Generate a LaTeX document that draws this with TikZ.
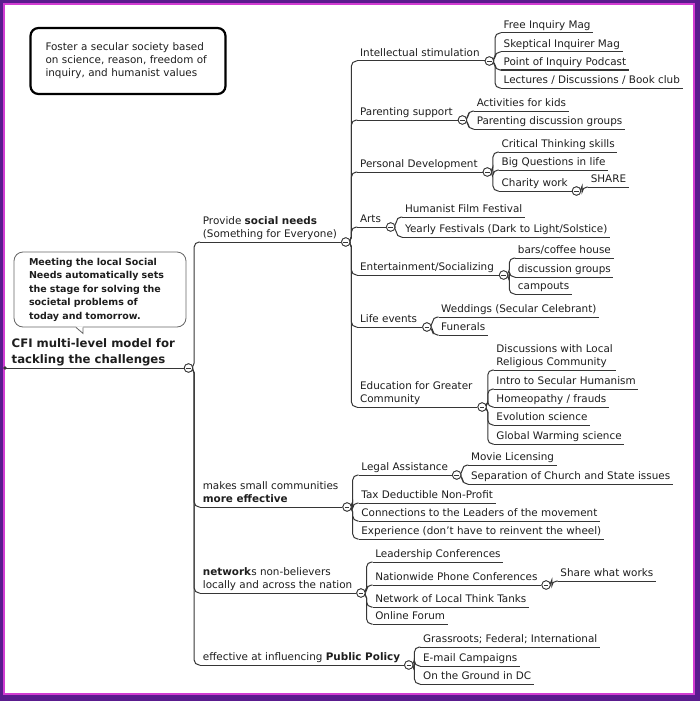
\documentclass[tikz,border=0pt]{standalone}
\usepackage{fontspec}
\setmainfont{DejaVu Sans}
\usetikzlibrary{positioning}

\definecolor{frameout}{HTML}{5A1B8E}
\definecolor{framein}{HTML}{D23CD2}
\definecolor{inkline}{HTML}{363636}
\definecolor{inktext}{HTML}{1E1E1E}

\newcommand{\mapfont}{\fontsize{10.4}{13}\selectfont}
\newcommand{\rootfont}{\fontsize{11.7}{16}\selectfont\bfseries}
\newcommand{\notefont}{\fontsize{9.5}{13.5}\selectfont\bfseries}

\tikzset{
  topic/.style={anchor=south west, inner xsep=2.5pt, inner ysep=1.5pt, text depth=2.5pt,
    font=\mapfont, text=inktext, align=left},
  rootnode/.style={anchor=south west, inner xsep=6.5pt, inner ysep=2pt,
    font=\rootfont, text=inktext, align=left},
  ul/.style={draw=inkline, line width=1pt},
  link/.style={draw=inkline, line width=1pt, rounded corners=5pt},
  minus/.style={circle, draw=inkline, line width=0.8pt, fill=white, minimum size=8.5pt, inner sep=0pt,
    path picture={\draw[inkline, line width=0.8pt]
      ([xshift=2pt]path picture bounding box.west) -- ([xshift=-2pt]path picture bounding box.east);}},
  goalbox/.style={draw=black, line width=2.2pt, rounded corners=8pt, font=\mapfont, text=inktext,
    align=left, text width=165pt, inner xsep=15pt, minimum height=66pt},
  notebox/.style={draw=black!60, line width=0.8pt, rounded corners=9pt, fill=white,
    font=\notefont, text=inktext, align=left, text width=142pt, inner xsep=15pt, minimum height=75pt},
}

\begin{document}
\begin{tikzpicture}[x=1pt,y=-1pt]
  % frame
  \fill[frameout] (0,0) rectangle (700,701);
  \fill[white] (4,4) rectangle (694,694);
  \draw[framein, line width=2pt] (4,4) rectangle (694,694);

  % boxes
  \node[goalbox] (goal) at (128,61) {Foster a secular society based\\on science, reason, freedom of\\inquiry, and humanist values};
  \node[notebox] (note) at (100,289.5) {Meeting the local Social\\Needs automatically sets\\the stage for solving the\\societal problems of\\today and tomorrow.};
  \coordinate (tipa) at ([xshift=-24pt]note.south);
  \coordinate (tipb) at ([xshift=-17pt]note.south);
  \coordinate (tip) at ([xshift=-17pt,yshift=-6pt]note.south);
  \fill[white] ([yshift=1pt]tipa) -- (tip) -- ([yshift=1pt]tipb) -- cycle;
  \draw[black!60, line width=0.8pt] (tipa) -- (tip) -- (tipb);

  % root
  \node[rootnode] (root) at (5,368) {CFI multi-level model for\\tackling the challenges};
  \node[minus] (root-m) at ([xshift=7pt]root.south east) {};
  \fill[inkline] (root.south west) circle (1.8pt);

  % level 1
  \node[topic, xshift=7pt] (prov) at (root-m.east |- 0,242) {Provide \textbf{social needs}\\(Something for Everyone)};
  \node[topic, xshift=7pt] (eff) at (root-m.east |- 0,507) {makes small communities\\\textbf{more effective}};
  \node[topic, xshift=7pt] (net) at (root-m.east |- 0,593) {\textbf{network}s non-believers\\locally and across the nation};
  \node[topic, xshift=7pt] (pol) at (root-m.east |- 0,665) {effective at influencing \textbf{Public Policy}};
  \node[minus] (prov-m) at ([xshift=6pt]prov.south east) {};
  \node[minus] (eff-m) at ([xshift=6pt]eff.south east) {};
  \node[minus] (net-m) at ([xshift=6pt]net.south east) {};
  \node[minus] (pol-m) at ([xshift=6pt]pol.south east) {};

  % social needs
  \node[topic, xshift=7pt] (ints) at (prov-m.east |- 0,61) {Intellectual stimulation};
  \node[topic, xshift=7pt] (par) at (prov-m.east |- 0,120) {Parenting support};
  \node[topic, xshift=7pt] (pdev) at (prov-m.east |- 0,172) {Personal Development};
  \node[topic, xshift=7pt] (arts) at (prov-m.east |- 0,227) {Arts};
  \node[topic, xshift=7pt] (ent) at (prov-m.east |- 0,275) {Entertainment/Socializing};
  \node[topic, xshift=7pt] (life) at (prov-m.east |- 0,327) {Life events};
  \node[topic, xshift=7pt] (edu) at (prov-m.east |- 0,407) {Education for Greater\\Community};
  \foreach \n in {ints,par,pdev,arts,ent,life,edu}
    \node[minus] (\n-m) at ([xshift=7pt]\n.south east) {};

  \node[topic, xshift=7pt] (fim) at (ints-m.east |- 0,33) {Free Inquiry Mag};
  \node[topic, xshift=7pt] (skm) at (ints-m.east |- 0,52) {Skeptical Inquirer Mag};
  \node[topic, xshift=7pt] (poi) at (ints-m.east |- 0,70) {Point of Inquiry Podcast};
  \node[topic, xshift=7pt] (lec) at (ints-m.east |- 0,88) {Lectures / Discussions / Book club};

  \node[topic, xshift=7pt] (kids) at (par-m.east |- 0,111) {Activities for kids};
  \node[topic, xshift=7pt] (pgrp) at (par-m.east |- 0,129) {Parenting discussion groups};

  \node[topic, xshift=7pt] (crit) at (pdev-m.east |- 0,152) {Critical Thinking skills};
  \node[topic, xshift=7pt] (bigq) at (pdev-m.east |- 0,170) {Big Questions in life};
  \node[topic, xshift=7pt] (char) at (pdev-m.east |- 0,191) {Charity work};
  \node[minus] (char-m) at ([xshift=6pt]char.south east) {};
  \node[topic, xshift=7pt] (share) at (char-m.east |- 0,187) {SHARE};

  \node[topic, xshift=7pt] (film) at (arts-m.east |- 0,217) {Humanist Film Festival};
  \node[topic, xshift=7pt] (fest) at (arts-m.east |- 0,237) {Yearly Festivals (Dark to Light/Solstice)};

  \node[topic, xshift=7pt] (bars) at (ent-m.east |- 0,258) {bars/coffee house};
  \node[topic, xshift=7pt] (disc) at (ent-m.east |- 0,277) {discussion groups};
  \node[topic, xshift=7pt] (camp) at (ent-m.east |- 0,294) {campouts};

  \node[topic, xshift=7pt] (wed) at (life-m.east |- 0,317) {Weddings (Secular Celebrant)};
  \node[topic, xshift=7pt] (fun) at (life-m.east |- 0,335) {Funerals};

  \node[topic, xshift=7pt] (relg) at (edu-m.east |- 0,370) {Discussions with Local\\Religious Community};
  \node[topic, xshift=7pt] (hum) at (edu-m.east |- 0,389) {Intro to Secular Humanism};
  \node[topic, xshift=7pt] (homeo) at (edu-m.east |- 0,407) {Homeopathy / frauds};
  \node[topic, xshift=7pt] (evo) at (edu-m.east |- 0,425) {Evolution science};
  \node[topic, xshift=7pt] (glob) at (edu-m.east |- 0,444) {Global Warming science};

  % small communities
  \node[topic, xshift=7pt] (legal) at (eff-m.east |- 0,475) {Legal Assistance};
  \node[minus] (legal-m) at ([xshift=6pt]legal.south east) {};
  \node[topic, xshift=7pt] (movie) at (legal-m.east |- 0,465) {Movie Licensing};
  \node[topic, xshift=7pt] (sepcs) at (legal-m.east |- 0,484) {Separation of Church and State issues};
  \node[topic, xshift=7pt] (tax) at (eff-m.east |- 0,503) {Tax Deductible Non-Profit};
  \node[topic, xshift=7pt] (conn) at (eff-m.east |- 0,521) {Connections to the Leaders of the movement};
  \node[topic, xshift=7pt] (exper) at (eff-m.east |- 0,539) {Experience (don't have to reinvent the wheel)};

  % networks
  \node[topic, xshift=7pt] (lead) at (net-m.east |- 0,562) {Leadership Conferences};
  \node[topic, xshift=7pt] (phone) at (net-m.east |- 0,585) {Nationwide Phone Conferences};
  \node[minus] (phone-m) at ([xshift=6pt]phone.south east) {};
  \node[topic, xshift=7pt] (works) at (phone-m.east |- 0,581) {Share what works};
  \node[topic, xshift=7pt] (think) at (net-m.east |- 0,607) {Network of Local Think Tanks};
  \node[topic, xshift=7pt] (forum) at (net-m.east |- 0,624) {Online Forum};

  % public policy
  \node[topic, xshift=7pt] (grass) at (pol-m.east |- 0,647) {Grassroots; Federal; International};
  \node[topic, xshift=7pt] (email) at (pol-m.east |- 0,666) {E-mail Campaigns};
  \node[topic, xshift=7pt] (ground) at (pol-m.east |- 0,684) {On the Ground in DC};

  % links
  \foreach \c in {prov,eff,net,pol} \draw[link] (root-m.east) -- ++(1,0) |- (\c.south west);
  \foreach \c in {ints,par,pdev,arts,ent,life,edu} \draw[link] (prov-m.east) -- ++(1,0) |- (\c.south west);
  \foreach \c in {fim,skm,poi,lec} \draw[link] (ints-m.east) -- ++(1,0) |- (\c.south west);
  \foreach \c in {kids,pgrp} \draw[link] (par-m.east) -- ++(1,0) |- (\c.south west);
  \foreach \c in {crit,bigq,char} \draw[link] (pdev-m.east) -- ++(1,0) |- (\c.south west);
  \draw[link] (char-m.east) -- ++(1,0) |- (share.south west);
  \foreach \c in {film,fest} \draw[link] (arts-m.east) -- ++(1,0) |- (\c.south west);
  \foreach \c in {bars,disc,camp} \draw[link] (ent-m.east) -- ++(1,0) |- (\c.south west);
  \foreach \c in {wed,fun} \draw[link] (life-m.east) -- ++(1,0) |- (\c.south west);
  \foreach \c in {relg,hum,homeo,evo,glob} \draw[link] (edu-m.east) -- ++(1,0) |- (\c.south west);
  \foreach \c in {legal,tax,conn,exper} \draw[link] (eff-m.east) -- ++(1,0) |- (\c.south west);
  \foreach \c in {movie,sepcs} \draw[link] (legal-m.east) -- ++(1,0) |- (\c.south west);
  \foreach \c in {lead,phone,think,forum} \draw[link] (net-m.east) -- ++(1,0) |- (\c.south west);
  \draw[link] (phone-m.east) -- ++(1,0) |- (works.south west);
  \foreach \c in {grass,email,ground} \draw[link] (pol-m.east) -- ++(1,0) |- (\c.south west);

  % underlines
  \foreach \n in {root,prov,eff,net,pol,ints,par,pdev,arts,ent,life,edu,char,legal,phone}
    \draw[ul] (\n.south west) -- (\n-m);
  \foreach \n in {fim,skm,poi,lec,kids,pgrp,crit,bigq,share,film,fest,bars,disc,camp,wed,fun,
                  relg,hum,homeo,evo,glob,movie,sepcs,tax,conn,exper,lead,works,think,forum,grass,email,ground}
    \draw[ul] (\n.south west) -- (\n.south east);

  % markers on top
  \foreach \n in {root,prov,eff,net,pol,ints,par,pdev,arts,ent,life,edu,char,legal,phone}
    \node[minus] at (\n-m) {};
\end{tikzpicture}
\end{document}
